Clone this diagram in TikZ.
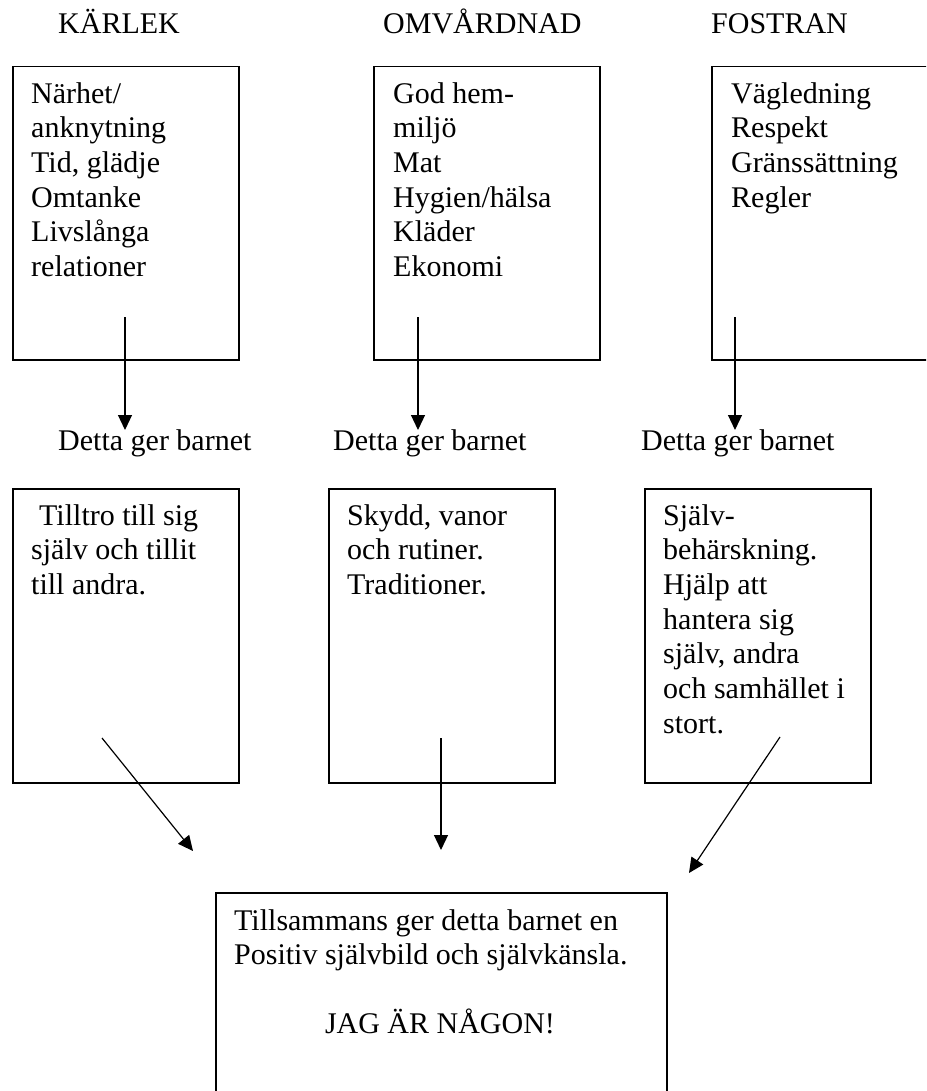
\documentclass[tikz,border=0pt]{standalone}
\usepackage{fontspec}
\setmainfont{Liberation Serif}
\usetikzlibrary{arrows.meta}
\tikzset{
  box/.style={draw, line width=1.5pt, anchor=north west, inner sep=0pt},
  topbox/.style={box, minimum width=226pt, minimum height=293pt},
  midbox/.style={box, minimum width=226pt, minimum height=294pt},
  txt/.style={anchor=north west, inner sep=0pt, align=left, font=\fontsize{30}{34.7}\selectfont},
  lbl/.style={anchor=base west, inner sep=0pt, font=\fontsize{30}{34.7}\selectfont},
  arr/.style={line width=1.2pt, -{Triangle[length=15pt,width=14pt]}},
}
\begin{document}
\begin{tikzpicture}[x=1pt,y=-1pt]
\useasboundingbox (0,0) rectangle (926,1091);
\clip (0,0) rectangle (926,1091);
\fill[white] (0,0) rectangle (926,1091);

% headers
\node[lbl] (h1) at (58,34) {KÄRLEK};
\node[lbl] (h2) at (383,34) {OMVÅRDNAD};
\node[lbl] (h3) at (711,34) {FOSTRAN};

% top boxes
\node[topbox] (b1) at (12,66) {};
\node[topbox] (b2) at (373,66) {};
\node[topbox] (b3) at (711,66) {};

\node[txt] (t1) at (31,78.7) {\strut Närhet/\\anknytning\\Tid, glädje\\Omtanke\\Livslånga\\relationer};
\node[txt] (t2) at (393,78.7) {\strut God hem-\\miljö\\Mat\\Hygien/hälsa\\Kläder\\Ekonomi};
\node[txt] (t3) at (731,78.7) {\strut Vägledning\\Respekt\\Gränssättning\\Regler};

% arrows to labels
\coordinate (a1s) at (125,317); \coordinate (a1e) at (125,430);
\coordinate (a2s) at (418,317); \coordinate (a2e) at (418,430);
\coordinate (a3s) at (735,317); \coordinate (a3e) at (735,430);
\draw[arr] (a1s) -- (a1e);
\draw[arr] (a2s) -- (a2e);
\draw[arr] (a3s) -- (a3e);

\node[lbl] (d1) at (58,450) {Detta ger barnet};
\node[lbl] (d2) at (333,450) {Detta ger barnet};
\node[lbl] (d3) at (641,450) {Detta ger barnet};

% middle boxes
\node[midbox] (m1) at (12,488) {};
\node[midbox] (m2) at (328,488) {};
\node[midbox] (m3) at (644,488) {};

\node[txt] (s1) at (31,500.7) {\strut\hspace*{8pt}Tilltro till sig\\själv och tillit\\till andra.};
\node[txt] (s2) at (347,500.7) {\strut Skydd, vanor\\och rutiner.\\Traditioner.};
\node[txt] (s3) at (663,500.7) {\strut Själv-\\behärskning.\\Hjälp att\\hantera sig\\själv, andra\\och samhället i\\stort.};

% arrows to bottom
\coordinate (c1s) at (102,738); \coordinate (c1e) at (193,851);
\coordinate (c2s) at (441,738); \coordinate (c2e) at (441,850);
\coordinate (c3s) at (780,737); \coordinate (c3e) at (689,873);
\draw[arr] (c1s) -- (c1e);
\draw[arr] (c2s) -- (c2e);
\draw[arr] (c3s) -- (c3e);

% bottom box
\node[box, minimum width=451pt, minimum height=260pt] (bb) at (215,892) {};
\node[txt] (bt) at (234,905.7) {\strut Tillsammans ger detta barnet en\\Positiv självbild och självkänsla.};
\node[lbl, anchor=base] (jag) at (440,1033) {JAG ÄR NÅGON!};
\end{tikzpicture}
\end{document}
